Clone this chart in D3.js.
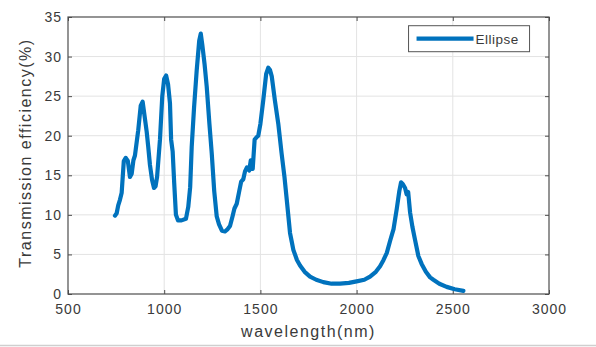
<!DOCTYPE html>
<html>
<head>
<meta charset="utf-8">
<script src="https://cdn.jsdelivr.net/npm/d3@7"></script>
<style>
  body { margin: 0; background: #fff; }
  svg { display: block; font-family: "Liberation Sans", Arial, sans-serif; }
</style>
</head>
<body>
<div id="chart"></div>
<script>
// Transmission efficiency spectrum for the ellipse structure.
const wavelength = [744, 753, 761, 770, 779, 790, 800, 811, 822, 831, 840, 848, 865, 878, 888, 898,
  909, 917, 926, 937, 947, 955, 963, 978, 990, 1000, 1010, 1020, 1030, 1036, 1044, 1052,
  1061, 1072, 1090, 1113, 1125, 1135, 1143, 1155, 1169, 1182, 1190, 1198, 1210, 1221, 1235, 1247,
  1260, 1273, 1285, 1300, 1316, 1330, 1342, 1355, 1365, 1377, 1390, 1400, 1411, 1420, 1430, 1442,
  1450, 1460, 1470, 1480, 1489, 1500, 1515, 1530, 1541, 1550, 1559, 1575, 1593, 1610, 1625, 1637,
  1654, 1663, 1671, 1690, 1706, 1730, 1758, 1790, 1827, 1870, 1914, 1960, 2000, 2040, 2070, 2100,
  2122, 2140, 2157, 2175, 2192, 2209, 2222, 2231, 2240, 2252, 2260, 2268, 2278, 2290, 2304, 2321,
  2338, 2360, 2382, 2399, 2430, 2468, 2510, 2555];
const efficiency = [9.9, 10.2, 11.2, 11.9, 12.8, 16.8, 17.2, 16.8, 14.8, 15.2, 16.9, 17.5, 20.7, 23.8, 24.3, 22.5,
  20.5, 18.6, 16.3, 14.4, 13.4, 13.6, 14.8, 19.5, 25.0, 27.2, 27.6, 26.5, 24.1, 19.5, 18.0, 14.0,
  10.0, 9.3, 9.3, 9.5, 11.0, 13.5, 18.6, 23.5, 28.3, 32.0, 32.9, 31.5, 29.0, 26.2, 21.5, 17.8,
  13.0, 9.8, 8.8, 8.0, 7.9, 8.2, 8.6, 9.8, 10.8, 11.4, 13.0, 14.2, 14.5, 15.5, 16.0, 15.6,
  16.9, 15.8, 19.5, 19.8, 20.0, 21.5, 24.5, 27.8, 28.6, 28.3, 27.5, 24.5, 21.5, 17.8, 14.8, 11.9,
  7.7, 6.6, 5.6, 4.3, 3.6, 2.8, 2.2, 1.8, 1.5, 1.3, 1.3, 1.4, 1.6, 1.8, 2.2, 2.8,
  3.5, 4.3, 5.2, 6.8, 8.2, 10.8, 13.0, 14.1, 13.9, 13.4, 12.6, 12.9, 10.3, 8.5, 6.8, 4.8,
  3.8, 2.8, 2.1, 1.8, 1.3, 0.9, 0.6, 0.4];
const xTicks = [500, 1000, 1500, 2000, 2500, 3000];
const yTicks = [0, 5, 10, 15, 20, 25, 30, 35];
const seriesName = "Ellipse";

const W = 596, H = 347;
const m = { top: 17, right: 47, bottom: 53, left: 68 };
const iw = W - m.left - m.right, ih = H - m.top - m.bottom;
const blue = "#0072bd", axisCol = "#4d4d4d", textCol = "#3a3a3a";

const svg = d3.select("#chart").append("svg").attr("width", W).attr("height", H);
const g = svg.append("g").attr("transform", `translate(${m.left},${m.top})`);

const x = d3.scaleLinear().domain([500, 3000]).range([0, iw]);
const y = d3.scaleLinear().domain([0, 35]).range([ih, 0]);

// grid
g.append("g").selectAll("line").data(xTicks.slice(1, -1)).join("line")
  .attr("x1", d => x(d)).attr("x2", d => x(d)).attr("y1", 0).attr("y2", ih)
  .attr("stroke", "#e3e3e3").attr("stroke-width", 1);
g.append("g").selectAll("line").data(yTicks.slice(1, -1)).join("line")
  .attr("x1", 0).attr("x2", iw).attr("y1", d => y(d)).attr("y2", d => y(d))
  .attr("stroke", "#e3e3e3").attr("stroke-width", 1);

// axes (ticks inward, MATLAB box style)
const styleAxis = sel => {
  sel.select(".domain").remove();
  sel.selectAll("line").attr("stroke", axisCol);
  sel.selectAll("text").attr("fill", textCol).attr("font-size", 14).attr("letter-spacing", 1);
};
g.append("g").attr("transform", `translate(0,${ih})`)
  .call(d3.axisBottom(x).tickValues(xTicks).tickSizeInner(-4).tickSizeOuter(0).tickPadding(10).tickFormat(d3.format("d")))
  .call(styleAxis);
g.append("g")
  .call(d3.axisLeft(y).tickValues(yTicks).tickSizeInner(-4).tickSizeOuter(0).tickPadding(6))
  .call(styleAxis);
g.append("g")
  .call(d3.axisTop(x).tickValues(xTicks).tickSizeInner(-4).tickSizeOuter(0).tickFormat(""))
  .call(styleAxis);
g.append("g").attr("transform", `translate(${iw},0)`)
  .call(d3.axisRight(y).tickValues(yTicks).tickSizeInner(-4).tickSizeOuter(0).tickFormat(""))
  .call(styleAxis);
g.append("rect").attr("width", iw).attr("height", ih)
  .attr("fill", "none").attr("stroke", axisCol).attr("stroke-width", 1.2);

// curve
const pts = wavelength.map((w, i) => ({ w, e: efficiency[i] }));
g.append("path").datum(pts)
  .attr("fill", "none").attr("stroke", blue).attr("stroke-width", 4.2)
  .attr("stroke-linejoin", "round").attr("stroke-linecap", "round")
  .attr("d", d3.line().x(d => x(d.w)).y(d => y(d.e)));

// legend
const lg = g.append("g").attr("transform", `translate(${x(2270)},${y(33.9)})`);
lg.append("rect").attr("width", 121).attr("height", 26)
  .attr("fill", "#fff").attr("stroke", "#555").attr("stroke-width", 1);
lg.append("line").attr("x1", 8).attr("x2", 65).attr("y1", 13).attr("y2", 13)
  .attr("stroke", blue).attr("stroke-width", 4.2);
lg.append("text").attr("x", 67).attr("y", 18).attr("font-size", 13.5).attr("letter-spacing", 0.5)
  .attr("fill", textCol).text(seriesName);

// axis labels
svg.append("text").attr("x", m.left + iw / 2).attr("y", 337).attr("text-anchor", "middle")
  .attr("font-size", 16).attr("letter-spacing", 1.5).attr("fill", textCol).text("wavelength(nm)");
svg.append("text").attr("transform", `translate(31,153) rotate(-90)`)
  .attr("text-anchor", "middle").attr("font-size", 16).attr("letter-spacing", 1.5).attr("fill", textCol)
  .text("Transmission efficiency(%)");

// bottom frame edge of the original figure
svg.append("line").attr("x1", 0).attr("x2", W).attr("y1", 345.5).attr("y2", 345.5)
  .attr("stroke", "#cfcfcf").attr("stroke-width", 1.5);
</script>
</body>
</html>
